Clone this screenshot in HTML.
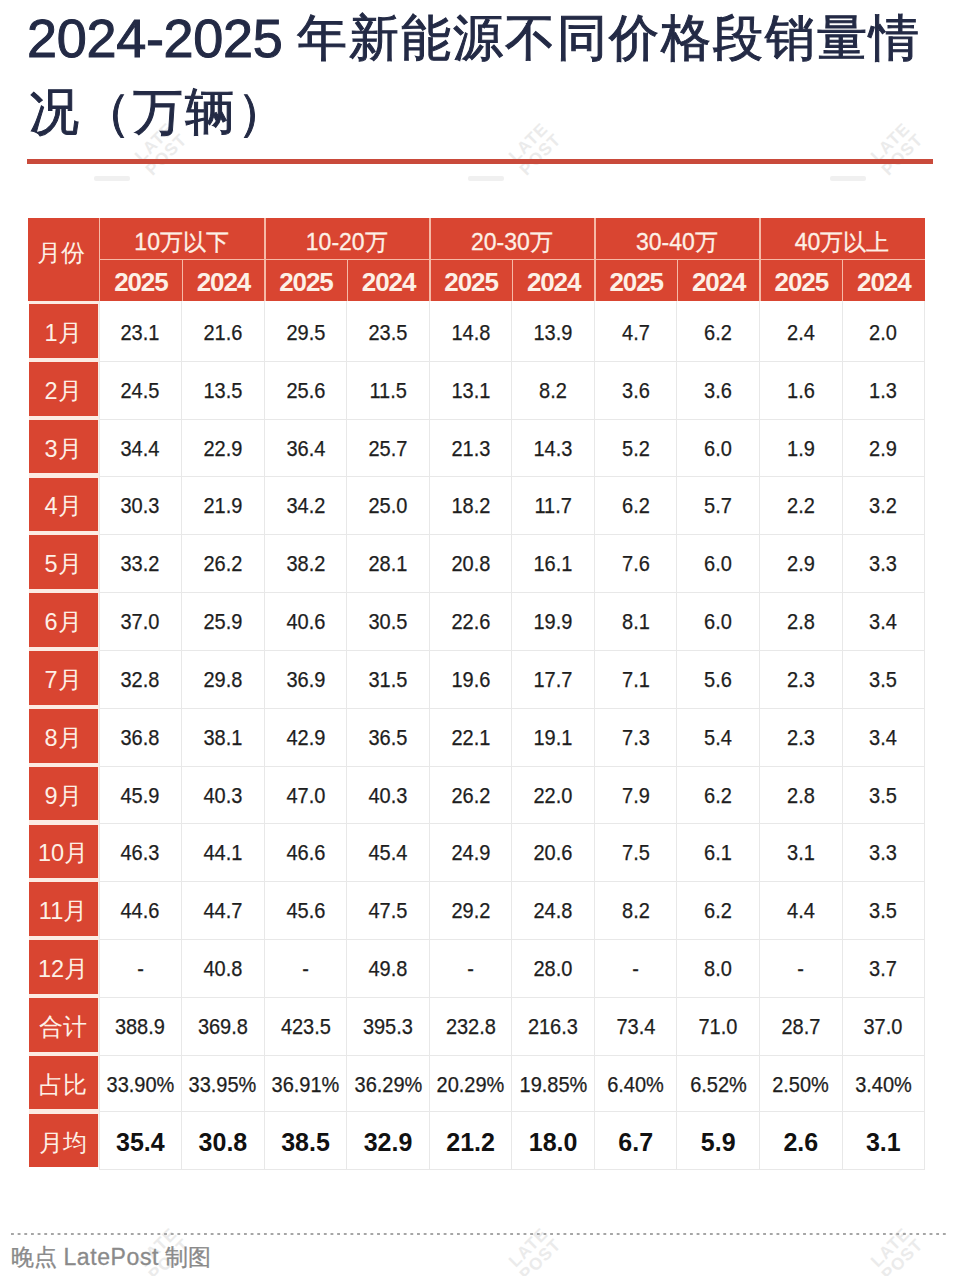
<!DOCTYPE html>
<html><head><meta charset="utf-8">
<style>
html,body{margin:0;padding:0;background:#fff;}
body{width:960px;height:1276px;position:relative;overflow:hidden;font-family:"Liberation Sans",sans-serif;}
div{position:absolute;box-sizing:border-box;}
.title{left:28px;font-size:50px;line-height:73px;letter-spacing:2px;color:#232a45;white-space:nowrap;-webkit-text-stroke:1px #232a45;}
.wm{width:80px;height:44px;font-size:17px;line-height:17px;font-weight:bold;color:#ebebeb;text-align:center;letter-spacing:1px;transform:rotate(-45deg);}
.wmbar{width:36px;height:5px;background:#f0f0f0;border-radius:2px;}
.rule{left:27px;top:159px;width:906px;height:5px;background:#c94a3b;}
.red{background:#d94531;}
.hl{background:#f6b9a6;}
.gl{background:#e8e8e8;}
.ht,.gt,.yt,.mc{color:#fdf0e6;display:flex;align-items:center;justify-content:center;}
.ht{font-size:24px;padding-bottom:12px;padding-right:6px;}
.gt{font-size:23px;padding-top:7px;-webkit-text-stroke:0.3px #fdf0e6;}
.yt{font-size:26px;font-weight:bold;letter-spacing:-1.1px;padding-top:5px;padding-left:1px;}
.mc{background:#d94531;font-size:23.5px;padding-top:4px;padding-right:1px;}
.dv{color:#1e1e1e;display:flex;align-items:center;justify-content:center;font-size:21.5px;padding-top:3px;-webkit-text-stroke:0.25px #1e1e1e;}
.dv span{display:inline-block;transform:scaleX(0.93);}
.dv.p{}
.dv.b{font-weight:bold;font-size:25px;color:#111;padding-top:2px;-webkit-text-stroke:0;}
.dv.b span{transform:none;}
.foot{left:11px;top:1241.5px;font-size:23px;color:#8a8a8a;white-space:nowrap;-webkit-text-stroke:0.3px #8a8a8a;}
.dots{left:11px;top:1233px;width:938px;height:2px;background-image:linear-gradient(to right,#a6a6a6 47%,transparent 47%);background-size:6.67px 2px;}
</style></head><body>
<div class="wmbar" style="left:94px;top:176px"></div>
<div class="wm" style="left:124px;top:130px">LATE<br>POST</div>
<div class="wmbar" style="left:468px;top:176px"></div>
<div class="wm" style="left:498px;top:130px">LATE<br>POST</div>
<div class="wmbar" style="left:830px;top:176px"></div>
<div class="wm" style="left:860px;top:130px">LATE<br>POST</div>
<div class="wmbar" style="left:97px;top:1281px"></div>
<div class="wm" style="left:127px;top:1235px">LATE<br>POST</div>
<div class="wmbar" style="left:468px;top:1281px"></div>
<div class="wm" style="left:498px;top:1235px">LATE<br>POST</div>
<div class="wmbar" style="left:830px;top:1281px"></div>
<div class="wm" style="left:860px;top:1235px">LATE<br>POST</div>
<div class="title" style="left:27px;top:2px"><span style="font-size:54px;letter-spacing:-0.3px">2024-2025</span></div>
<div class="title" style="left:296.5px;top:1.5px">年新能源不同价格段销量情</div>
<div class="title" style="left:29px;top:76px">况（万辆）</div>
<div class="rule"></div>
<div class="red" style="left:28px;top:217.8px;width:896.6px;height:83.19999999999999px"></div>
<div class="hl" style="left:99.1px;top:258.55px;width:825.5px;height:1.5px"></div>
<div class="hl" style="left:98.94999999999999px;top:217.8px;width:1.5px;height:83.19999999999999px"></div>
<div class="hl" style="left:181.49999999999997px;top:259.3px;width:1.5px;height:41.69999999999999px"></div>
<div class="hl" style="left:264.05px;top:217.8px;width:1.5px;height:83.19999999999999px"></div>
<div class="hl" style="left:346.6px;top:259.3px;width:1.5px;height:41.69999999999999px"></div>
<div class="hl" style="left:429.15px;top:217.8px;width:1.5px;height:83.19999999999999px"></div>
<div class="hl" style="left:511.70000000000005px;top:259.3px;width:1.5px;height:41.69999999999999px"></div>
<div class="hl" style="left:594.25px;top:217.8px;width:1.5px;height:83.19999999999999px"></div>
<div class="hl" style="left:676.8000000000001px;top:259.3px;width:1.5px;height:41.69999999999999px"></div>
<div class="hl" style="left:759.35px;top:217.8px;width:1.5px;height:83.19999999999999px"></div>
<div class="hl" style="left:841.9px;top:259.3px;width:1.5px;height:41.69999999999999px"></div>
<div class="ht" style="left:28px;top:217.8px;width:71.1px;height:83.19999999999999px">月份</div>
<div class="gt" style="left:99.1px;top:217.8px;width:165.1px;height:41.5px">10万以下</div>
<div class="gt" style="left:264.2px;top:217.8px;width:165.1px;height:41.5px">10-20万</div>
<div class="gt" style="left:429.29999999999995px;top:217.8px;width:165.1px;height:41.5px">20-30万</div>
<div class="gt" style="left:594.4px;top:217.8px;width:165.1px;height:41.5px">30-40万</div>
<div class="gt" style="left:759.5px;top:217.8px;width:165.1px;height:41.5px">40万以上</div>
<div class="yt" style="left:99.1px;top:259.3px;width:82.55px;height:41.69999999999999px">2025</div>
<div class="yt" style="left:181.64999999999998px;top:259.3px;width:82.55px;height:41.69999999999999px">2024</div>
<div class="yt" style="left:264.2px;top:259.3px;width:82.55px;height:41.69999999999999px">2025</div>
<div class="yt" style="left:346.75px;top:259.3px;width:82.55px;height:41.69999999999999px">2024</div>
<div class="yt" style="left:429.29999999999995px;top:259.3px;width:82.55px;height:41.69999999999999px">2025</div>
<div class="yt" style="left:511.85px;top:259.3px;width:82.55px;height:41.69999999999999px">2024</div>
<div class="yt" style="left:594.4px;top:259.3px;width:82.55px;height:41.69999999999999px">2025</div>
<div class="yt" style="left:676.95px;top:259.3px;width:82.55px;height:41.69999999999999px">2024</div>
<div class="yt" style="left:759.5px;top:259.3px;width:82.55px;height:41.69999999999999px">2025</div>
<div class="yt" style="left:842.05px;top:259.3px;width:82.55px;height:41.69999999999999px">2024</div>
<div style="left:28.5px;top:301.0px;width:70.6px;height:866.3199999999999px;background:#fcebe3"></div>
<div class="mc" style="left:29.3px;top:304.1px;width:68.5px;height:53.6px">1月</div>
<div class="mc" style="left:29.3px;top:361.93px;width:68.5px;height:53.6px">2月</div>
<div class="gl" style="left:99.1px;top:360.83px;width:825.5px;height:1px"></div>
<div class="mc" style="left:29.3px;top:419.76px;width:68.5px;height:53.6px">3月</div>
<div class="gl" style="left:99.1px;top:418.65999999999997px;width:825.5px;height:1px"></div>
<div class="mc" style="left:29.3px;top:477.59000000000003px;width:68.5px;height:53.6px">4月</div>
<div class="gl" style="left:99.1px;top:476.49px;width:825.5px;height:1px"></div>
<div class="mc" style="left:29.3px;top:535.4200000000001px;width:68.5px;height:53.6px">5月</div>
<div class="gl" style="left:99.1px;top:534.32px;width:825.5px;height:1px"></div>
<div class="mc" style="left:29.3px;top:593.25px;width:68.5px;height:53.6px">6月</div>
<div class="gl" style="left:99.1px;top:592.15px;width:825.5px;height:1px"></div>
<div class="mc" style="left:29.3px;top:651.08px;width:68.5px;height:53.6px">7月</div>
<div class="gl" style="left:99.1px;top:649.98px;width:825.5px;height:1px"></div>
<div class="mc" style="left:29.3px;top:708.9100000000001px;width:68.5px;height:53.6px">8月</div>
<div class="gl" style="left:99.1px;top:707.8100000000001px;width:825.5px;height:1px"></div>
<div class="mc" style="left:29.3px;top:766.74px;width:68.5px;height:53.6px">9月</div>
<div class="gl" style="left:99.1px;top:765.64px;width:825.5px;height:1px"></div>
<div class="mc" style="left:29.3px;top:824.57px;width:68.5px;height:53.6px">10月</div>
<div class="gl" style="left:99.1px;top:823.47px;width:825.5px;height:1px"></div>
<div class="mc" style="left:29.3px;top:882.4px;width:68.5px;height:53.6px">11月</div>
<div class="gl" style="left:99.1px;top:881.3px;width:825.5px;height:1px"></div>
<div class="mc" style="left:29.3px;top:940.23px;width:68.5px;height:53.6px">12月</div>
<div class="gl" style="left:99.1px;top:939.13px;width:825.5px;height:1px"></div>
<div class="mc" style="left:29.3px;top:998.0600000000001px;width:68.5px;height:53.6px">合计</div>
<div class="gl" style="left:99.1px;top:996.96px;width:825.5px;height:1px"></div>
<div class="mc" style="left:29.3px;top:1055.8899999999999px;width:68.5px;height:53.6px">占比</div>
<div class="gl" style="left:99.1px;top:1054.79px;width:825.5px;height:1px"></div>
<div class="mc" style="left:29.3px;top:1113.72px;width:68.5px;height:53.6px">月均</div>
<div class="gl" style="left:99.1px;top:1110.72px;width:825.5px;height:1px"></div>
<div class="gl" style="left:99.1px;top:1168.82px;width:825.5px;height:1px"></div>
<div class="gl" style="left:98.6px;top:301.0px;width:1px;height:867.8199999999999px"></div>
<div class="gl" style="left:181.14999999999998px;top:301.0px;width:1px;height:867.8199999999999px"></div>
<div class="gl" style="left:263.7px;top:301.0px;width:1px;height:867.8199999999999px"></div>
<div class="gl" style="left:346.25px;top:301.0px;width:1px;height:867.8199999999999px"></div>
<div class="gl" style="left:428.79999999999995px;top:301.0px;width:1px;height:867.8199999999999px"></div>
<div class="gl" style="left:511.35px;top:301.0px;width:1px;height:867.8199999999999px"></div>
<div class="gl" style="left:593.9px;top:301.0px;width:1px;height:867.8199999999999px"></div>
<div class="gl" style="left:676.45px;top:301.0px;width:1px;height:867.8199999999999px"></div>
<div class="gl" style="left:759.0px;top:301.0px;width:1px;height:867.8199999999999px"></div>
<div class="gl" style="left:841.55px;top:301.0px;width:1px;height:867.8199999999999px"></div>
<div class="gl" style="left:924.1px;top:301.0px;width:1px;height:867.8199999999999px"></div>
<div class="dv" style="left:99.1px;top:303.0px;width:82.55px;height:57.83px"><span>23.1</span></div>
<div class="dv" style="left:181.64999999999998px;top:303.0px;width:82.55px;height:57.83px"><span>21.6</span></div>
<div class="dv" style="left:264.2px;top:303.0px;width:82.55px;height:57.83px"><span>29.5</span></div>
<div class="dv" style="left:346.75px;top:303.0px;width:82.55px;height:57.83px"><span>23.5</span></div>
<div class="dv" style="left:429.29999999999995px;top:303.0px;width:82.55px;height:57.83px"><span>14.8</span></div>
<div class="dv" style="left:511.85px;top:303.0px;width:82.55px;height:57.83px"><span>13.9</span></div>
<div class="dv" style="left:594.4px;top:303.0px;width:82.55px;height:57.83px"><span>4.7</span></div>
<div class="dv" style="left:676.95px;top:303.0px;width:82.55px;height:57.83px"><span>6.2</span></div>
<div class="dv" style="left:759.5px;top:303.0px;width:82.55px;height:57.83px"><span>2.4</span></div>
<div class="dv" style="left:842.05px;top:303.0px;width:82.55px;height:57.83px"><span>2.0</span></div>
<div class="dv" style="left:99.1px;top:360.83px;width:82.55px;height:57.83px"><span>24.5</span></div>
<div class="dv" style="left:181.64999999999998px;top:360.83px;width:82.55px;height:57.83px"><span>13.5</span></div>
<div class="dv" style="left:264.2px;top:360.83px;width:82.55px;height:57.83px"><span>25.6</span></div>
<div class="dv" style="left:346.75px;top:360.83px;width:82.55px;height:57.83px"><span>11.5</span></div>
<div class="dv" style="left:429.29999999999995px;top:360.83px;width:82.55px;height:57.83px"><span>13.1</span></div>
<div class="dv" style="left:511.85px;top:360.83px;width:82.55px;height:57.83px"><span>8.2</span></div>
<div class="dv" style="left:594.4px;top:360.83px;width:82.55px;height:57.83px"><span>3.6</span></div>
<div class="dv" style="left:676.95px;top:360.83px;width:82.55px;height:57.83px"><span>3.6</span></div>
<div class="dv" style="left:759.5px;top:360.83px;width:82.55px;height:57.83px"><span>1.6</span></div>
<div class="dv" style="left:842.05px;top:360.83px;width:82.55px;height:57.83px"><span>1.3</span></div>
<div class="dv" style="left:99.1px;top:418.65999999999997px;width:82.55px;height:57.83px"><span>34.4</span></div>
<div class="dv" style="left:181.64999999999998px;top:418.65999999999997px;width:82.55px;height:57.83px"><span>22.9</span></div>
<div class="dv" style="left:264.2px;top:418.65999999999997px;width:82.55px;height:57.83px"><span>36.4</span></div>
<div class="dv" style="left:346.75px;top:418.65999999999997px;width:82.55px;height:57.83px"><span>25.7</span></div>
<div class="dv" style="left:429.29999999999995px;top:418.65999999999997px;width:82.55px;height:57.83px"><span>21.3</span></div>
<div class="dv" style="left:511.85px;top:418.65999999999997px;width:82.55px;height:57.83px"><span>14.3</span></div>
<div class="dv" style="left:594.4px;top:418.65999999999997px;width:82.55px;height:57.83px"><span>5.2</span></div>
<div class="dv" style="left:676.95px;top:418.65999999999997px;width:82.55px;height:57.83px"><span>6.0</span></div>
<div class="dv" style="left:759.5px;top:418.65999999999997px;width:82.55px;height:57.83px"><span>1.9</span></div>
<div class="dv" style="left:842.05px;top:418.65999999999997px;width:82.55px;height:57.83px"><span>2.9</span></div>
<div class="dv" style="left:99.1px;top:476.49px;width:82.55px;height:57.83px"><span>30.3</span></div>
<div class="dv" style="left:181.64999999999998px;top:476.49px;width:82.55px;height:57.83px"><span>21.9</span></div>
<div class="dv" style="left:264.2px;top:476.49px;width:82.55px;height:57.83px"><span>34.2</span></div>
<div class="dv" style="left:346.75px;top:476.49px;width:82.55px;height:57.83px"><span>25.0</span></div>
<div class="dv" style="left:429.29999999999995px;top:476.49px;width:82.55px;height:57.83px"><span>18.2</span></div>
<div class="dv" style="left:511.85px;top:476.49px;width:82.55px;height:57.83px"><span>11.7</span></div>
<div class="dv" style="left:594.4px;top:476.49px;width:82.55px;height:57.83px"><span>6.2</span></div>
<div class="dv" style="left:676.95px;top:476.49px;width:82.55px;height:57.83px"><span>5.7</span></div>
<div class="dv" style="left:759.5px;top:476.49px;width:82.55px;height:57.83px"><span>2.2</span></div>
<div class="dv" style="left:842.05px;top:476.49px;width:82.55px;height:57.83px"><span>3.2</span></div>
<div class="dv" style="left:99.1px;top:534.32px;width:82.55px;height:57.83px"><span>33.2</span></div>
<div class="dv" style="left:181.64999999999998px;top:534.32px;width:82.55px;height:57.83px"><span>26.2</span></div>
<div class="dv" style="left:264.2px;top:534.32px;width:82.55px;height:57.83px"><span>38.2</span></div>
<div class="dv" style="left:346.75px;top:534.32px;width:82.55px;height:57.83px"><span>28.1</span></div>
<div class="dv" style="left:429.29999999999995px;top:534.32px;width:82.55px;height:57.83px"><span>20.8</span></div>
<div class="dv" style="left:511.85px;top:534.32px;width:82.55px;height:57.83px"><span>16.1</span></div>
<div class="dv" style="left:594.4px;top:534.32px;width:82.55px;height:57.83px"><span>7.6</span></div>
<div class="dv" style="left:676.95px;top:534.32px;width:82.55px;height:57.83px"><span>6.0</span></div>
<div class="dv" style="left:759.5px;top:534.32px;width:82.55px;height:57.83px"><span>2.9</span></div>
<div class="dv" style="left:842.05px;top:534.32px;width:82.55px;height:57.83px"><span>3.3</span></div>
<div class="dv" style="left:99.1px;top:592.15px;width:82.55px;height:57.83px"><span>37.0</span></div>
<div class="dv" style="left:181.64999999999998px;top:592.15px;width:82.55px;height:57.83px"><span>25.9</span></div>
<div class="dv" style="left:264.2px;top:592.15px;width:82.55px;height:57.83px"><span>40.6</span></div>
<div class="dv" style="left:346.75px;top:592.15px;width:82.55px;height:57.83px"><span>30.5</span></div>
<div class="dv" style="left:429.29999999999995px;top:592.15px;width:82.55px;height:57.83px"><span>22.6</span></div>
<div class="dv" style="left:511.85px;top:592.15px;width:82.55px;height:57.83px"><span>19.9</span></div>
<div class="dv" style="left:594.4px;top:592.15px;width:82.55px;height:57.83px"><span>8.1</span></div>
<div class="dv" style="left:676.95px;top:592.15px;width:82.55px;height:57.83px"><span>6.0</span></div>
<div class="dv" style="left:759.5px;top:592.15px;width:82.55px;height:57.83px"><span>2.8</span></div>
<div class="dv" style="left:842.05px;top:592.15px;width:82.55px;height:57.83px"><span>3.4</span></div>
<div class="dv" style="left:99.1px;top:649.98px;width:82.55px;height:57.83px"><span>32.8</span></div>
<div class="dv" style="left:181.64999999999998px;top:649.98px;width:82.55px;height:57.83px"><span>29.8</span></div>
<div class="dv" style="left:264.2px;top:649.98px;width:82.55px;height:57.83px"><span>36.9</span></div>
<div class="dv" style="left:346.75px;top:649.98px;width:82.55px;height:57.83px"><span>31.5</span></div>
<div class="dv" style="left:429.29999999999995px;top:649.98px;width:82.55px;height:57.83px"><span>19.6</span></div>
<div class="dv" style="left:511.85px;top:649.98px;width:82.55px;height:57.83px"><span>17.7</span></div>
<div class="dv" style="left:594.4px;top:649.98px;width:82.55px;height:57.83px"><span>7.1</span></div>
<div class="dv" style="left:676.95px;top:649.98px;width:82.55px;height:57.83px"><span>5.6</span></div>
<div class="dv" style="left:759.5px;top:649.98px;width:82.55px;height:57.83px"><span>2.3</span></div>
<div class="dv" style="left:842.05px;top:649.98px;width:82.55px;height:57.83px"><span>3.5</span></div>
<div class="dv" style="left:99.1px;top:707.8100000000001px;width:82.55px;height:57.83px"><span>36.8</span></div>
<div class="dv" style="left:181.64999999999998px;top:707.8100000000001px;width:82.55px;height:57.83px"><span>38.1</span></div>
<div class="dv" style="left:264.2px;top:707.8100000000001px;width:82.55px;height:57.83px"><span>42.9</span></div>
<div class="dv" style="left:346.75px;top:707.8100000000001px;width:82.55px;height:57.83px"><span>36.5</span></div>
<div class="dv" style="left:429.29999999999995px;top:707.8100000000001px;width:82.55px;height:57.83px"><span>22.1</span></div>
<div class="dv" style="left:511.85px;top:707.8100000000001px;width:82.55px;height:57.83px"><span>19.1</span></div>
<div class="dv" style="left:594.4px;top:707.8100000000001px;width:82.55px;height:57.83px"><span>7.3</span></div>
<div class="dv" style="left:676.95px;top:707.8100000000001px;width:82.55px;height:57.83px"><span>5.4</span></div>
<div class="dv" style="left:759.5px;top:707.8100000000001px;width:82.55px;height:57.83px"><span>2.3</span></div>
<div class="dv" style="left:842.05px;top:707.8100000000001px;width:82.55px;height:57.83px"><span>3.4</span></div>
<div class="dv" style="left:99.1px;top:765.64px;width:82.55px;height:57.83px"><span>45.9</span></div>
<div class="dv" style="left:181.64999999999998px;top:765.64px;width:82.55px;height:57.83px"><span>40.3</span></div>
<div class="dv" style="left:264.2px;top:765.64px;width:82.55px;height:57.83px"><span>47.0</span></div>
<div class="dv" style="left:346.75px;top:765.64px;width:82.55px;height:57.83px"><span>40.3</span></div>
<div class="dv" style="left:429.29999999999995px;top:765.64px;width:82.55px;height:57.83px"><span>26.2</span></div>
<div class="dv" style="left:511.85px;top:765.64px;width:82.55px;height:57.83px"><span>22.0</span></div>
<div class="dv" style="left:594.4px;top:765.64px;width:82.55px;height:57.83px"><span>7.9</span></div>
<div class="dv" style="left:676.95px;top:765.64px;width:82.55px;height:57.83px"><span>6.2</span></div>
<div class="dv" style="left:759.5px;top:765.64px;width:82.55px;height:57.83px"><span>2.8</span></div>
<div class="dv" style="left:842.05px;top:765.64px;width:82.55px;height:57.83px"><span>3.5</span></div>
<div class="dv" style="left:99.1px;top:823.47px;width:82.55px;height:57.83px"><span>46.3</span></div>
<div class="dv" style="left:181.64999999999998px;top:823.47px;width:82.55px;height:57.83px"><span>44.1</span></div>
<div class="dv" style="left:264.2px;top:823.47px;width:82.55px;height:57.83px"><span>46.6</span></div>
<div class="dv" style="left:346.75px;top:823.47px;width:82.55px;height:57.83px"><span>45.4</span></div>
<div class="dv" style="left:429.29999999999995px;top:823.47px;width:82.55px;height:57.83px"><span>24.9</span></div>
<div class="dv" style="left:511.85px;top:823.47px;width:82.55px;height:57.83px"><span>20.6</span></div>
<div class="dv" style="left:594.4px;top:823.47px;width:82.55px;height:57.83px"><span>7.5</span></div>
<div class="dv" style="left:676.95px;top:823.47px;width:82.55px;height:57.83px"><span>6.1</span></div>
<div class="dv" style="left:759.5px;top:823.47px;width:82.55px;height:57.83px"><span>3.1</span></div>
<div class="dv" style="left:842.05px;top:823.47px;width:82.55px;height:57.83px"><span>3.3</span></div>
<div class="dv" style="left:99.1px;top:881.3px;width:82.55px;height:57.83px"><span>44.6</span></div>
<div class="dv" style="left:181.64999999999998px;top:881.3px;width:82.55px;height:57.83px"><span>44.7</span></div>
<div class="dv" style="left:264.2px;top:881.3px;width:82.55px;height:57.83px"><span>45.6</span></div>
<div class="dv" style="left:346.75px;top:881.3px;width:82.55px;height:57.83px"><span>47.5</span></div>
<div class="dv" style="left:429.29999999999995px;top:881.3px;width:82.55px;height:57.83px"><span>29.2</span></div>
<div class="dv" style="left:511.85px;top:881.3px;width:82.55px;height:57.83px"><span>24.8</span></div>
<div class="dv" style="left:594.4px;top:881.3px;width:82.55px;height:57.83px"><span>8.2</span></div>
<div class="dv" style="left:676.95px;top:881.3px;width:82.55px;height:57.83px"><span>6.2</span></div>
<div class="dv" style="left:759.5px;top:881.3px;width:82.55px;height:57.83px"><span>4.4</span></div>
<div class="dv" style="left:842.05px;top:881.3px;width:82.55px;height:57.83px"><span>3.5</span></div>
<div class="dv" style="left:99.1px;top:939.13px;width:82.55px;height:57.83px"><span>-</span></div>
<div class="dv" style="left:181.64999999999998px;top:939.13px;width:82.55px;height:57.83px"><span>40.8</span></div>
<div class="dv" style="left:264.2px;top:939.13px;width:82.55px;height:57.83px"><span>-</span></div>
<div class="dv" style="left:346.75px;top:939.13px;width:82.55px;height:57.83px"><span>49.8</span></div>
<div class="dv" style="left:429.29999999999995px;top:939.13px;width:82.55px;height:57.83px"><span>-</span></div>
<div class="dv" style="left:511.85px;top:939.13px;width:82.55px;height:57.83px"><span>28.0</span></div>
<div class="dv" style="left:594.4px;top:939.13px;width:82.55px;height:57.83px"><span>-</span></div>
<div class="dv" style="left:676.95px;top:939.13px;width:82.55px;height:57.83px"><span>8.0</span></div>
<div class="dv" style="left:759.5px;top:939.13px;width:82.55px;height:57.83px"><span>-</span></div>
<div class="dv" style="left:842.05px;top:939.13px;width:82.55px;height:57.83px"><span>3.7</span></div>
<div class="dv" style="left:99.1px;top:996.96px;width:82.55px;height:57.83px"><span>388.9</span></div>
<div class="dv" style="left:181.64999999999998px;top:996.96px;width:82.55px;height:57.83px"><span>369.8</span></div>
<div class="dv" style="left:264.2px;top:996.96px;width:82.55px;height:57.83px"><span>423.5</span></div>
<div class="dv" style="left:346.75px;top:996.96px;width:82.55px;height:57.83px"><span>395.3</span></div>
<div class="dv" style="left:429.29999999999995px;top:996.96px;width:82.55px;height:57.83px"><span>232.8</span></div>
<div class="dv" style="left:511.85px;top:996.96px;width:82.55px;height:57.83px"><span>216.3</span></div>
<div class="dv" style="left:594.4px;top:996.96px;width:82.55px;height:57.83px"><span>73.4</span></div>
<div class="dv" style="left:676.95px;top:996.96px;width:82.55px;height:57.83px"><span>71.0</span></div>
<div class="dv" style="left:759.5px;top:996.96px;width:82.55px;height:57.83px"><span>28.7</span></div>
<div class="dv" style="left:842.05px;top:996.96px;width:82.55px;height:57.83px"><span>37.0</span></div>
<div class="dv p" style="left:99.1px;top:1054.79px;width:82.55px;height:57.83px"><span>33.90%</span></div>
<div class="dv p" style="left:181.64999999999998px;top:1054.79px;width:82.55px;height:57.83px"><span>33.95%</span></div>
<div class="dv p" style="left:264.2px;top:1054.79px;width:82.55px;height:57.83px"><span>36.91%</span></div>
<div class="dv p" style="left:346.75px;top:1054.79px;width:82.55px;height:57.83px"><span>36.29%</span></div>
<div class="dv p" style="left:429.29999999999995px;top:1054.79px;width:82.55px;height:57.83px"><span>20.29%</span></div>
<div class="dv p" style="left:511.85px;top:1054.79px;width:82.55px;height:57.83px"><span>19.85%</span></div>
<div class="dv p" style="left:594.4px;top:1054.79px;width:82.55px;height:57.83px"><span>6.40%</span></div>
<div class="dv p" style="left:676.95px;top:1054.79px;width:82.55px;height:57.83px"><span>6.52%</span></div>
<div class="dv p" style="left:759.5px;top:1054.79px;width:82.55px;height:57.83px"><span>2.50%</span></div>
<div class="dv p" style="left:842.05px;top:1054.79px;width:82.55px;height:57.83px"><span>3.40%</span></div>
<div class="dv b" style="left:99.1px;top:1112.6200000000001px;width:82.55px;height:57.83px"><span>35.4</span></div>
<div class="dv b" style="left:181.64999999999998px;top:1112.6200000000001px;width:82.55px;height:57.83px"><span>30.8</span></div>
<div class="dv b" style="left:264.2px;top:1112.6200000000001px;width:82.55px;height:57.83px"><span>38.5</span></div>
<div class="dv b" style="left:346.75px;top:1112.6200000000001px;width:82.55px;height:57.83px"><span>32.9</span></div>
<div class="dv b" style="left:429.29999999999995px;top:1112.6200000000001px;width:82.55px;height:57.83px"><span>21.2</span></div>
<div class="dv b" style="left:511.85px;top:1112.6200000000001px;width:82.55px;height:57.83px"><span>18.0</span></div>
<div class="dv b" style="left:594.4px;top:1112.6200000000001px;width:82.55px;height:57.83px"><span>6.7</span></div>
<div class="dv b" style="left:676.95px;top:1112.6200000000001px;width:82.55px;height:57.83px"><span>5.9</span></div>
<div class="dv b" style="left:759.5px;top:1112.6200000000001px;width:82.55px;height:57.83px"><span>2.6</span></div>
<div class="dv b" style="left:842.05px;top:1112.6200000000001px;width:82.55px;height:57.83px"><span>3.1</span></div>
<div class="dots"></div>
<div class="foot">晚点 <span style="letter-spacing:0.6px">LatePost</span> 制图</div>
</body></html>
